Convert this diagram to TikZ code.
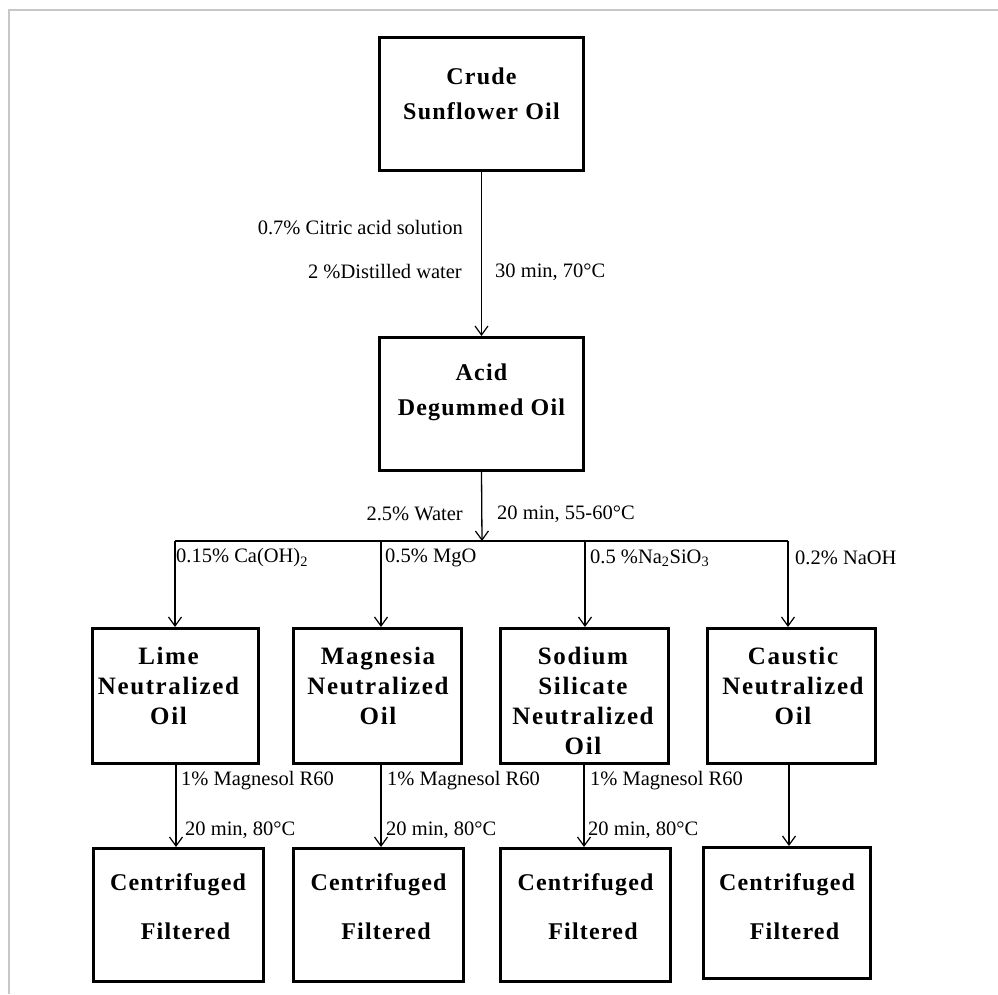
\documentclass[tikz,border=0pt]{standalone}
\usepackage{fontspec}
\setmainfont{Liberation Serif}
\usetikzlibrary{arrows.meta}
\begin{document}
\begin{tikzpicture}[x=1pt,y=1pt,
  box/.style={draw, line width=3pt, inner sep=0pt},
  btext/.style={font=\bfseries\fontsize{25}{30}\selectfont\addfontfeature{LetterSpace=6.5}, align=center, inner sep=0pt},
  lbl/.style={font=\fontsize{20.5}{24}\selectfont, inner sep=0pt},
  arr/.style={line width=1.3pt, -{Straight Barb[length=9pt,width=13pt,line width=1.2pt]}},
  ln/.style={line width=1.5pt},
  frame/.style={draw=black!22, line width=1.2pt}]
\useasboundingbox (0,0) rectangle (998,-994);
% frame
\draw[frame] (9,-994) -- (9,-10) -- (998,-10);

% boxes
\node[box, minimum width=204pt, minimum height=133pt] (crude) at (481.5,-104) {};
\node[box, minimum width=204pt, minimum height=133pt] (acid) at (481.5,-404) {};
\node[box, minimum width=166pt, minimum height=135pt] (lime) at (175.5,-696) {};
\node[box, minimum width=168pt, minimum height=135pt] (magn) at (377.5,-696) {};
\node[box, minimum width=168pt, minimum height=135pt] (sodi) at (584.5,-696) {};
\node[box, minimum width=168pt, minimum height=135pt] (caus) at (791.5,-696) {};
\node[box, minimum width=170pt, minimum height=133pt] (cf1) at (178.5,-915) {};
\node[box, minimum width=170pt, minimum height=133pt] (cf2) at (378.5,-915) {};
\node[box, minimum width=170pt, minimum height=133pt] (cf3) at (585.5,-915) {};
\node[box, minimum width=167pt, minimum height=131pt] (cf4) at (787,-913) {};

% box texts
\node[btext, font=\bfseries\fontsize{24}{35}\selectfont\addfontfeature{LetterSpace=5}] (crudet) at (481.5,-93.5) {Crude\\Sunflower Oil};
\node[btext, font=\bfseries\fontsize{24}{35}\selectfont\addfontfeature{LetterSpace=5}] (acidt) at (481.5,-392.5) {Acid\\Degummed Oil};
\node[btext] (limet) at (168.5,-685.5) {Lime\\Neutralized\\Oil};
\node[btext] (magnt) at (378,-685.5) {Magnesia\\Neutralized\\Oil};
\node[btext] (sodit) at (583,-700.5) {Sodium\\Silicate\\Neutralized\\Oil};
\node[btext] (caust) at (793,-685.5) {Caustic\\Neutralized\\Oil};
\node[btext, font=\bfseries\fontsize{24}{49}\selectfont\addfontfeature{LetterSpace=5}] (cf1t) at (178,-906.5) {Centrifuged\\\hspace*{15pt}Filtered};
\node[btext, font=\bfseries\fontsize{24}{49}\selectfont\addfontfeature{LetterSpace=5}] (cf2t) at (378.5,-906.5) {Centrifuged\\\hspace*{15pt}Filtered};
\node[btext, font=\bfseries\fontsize{24}{49}\selectfont\addfontfeature{LetterSpace=5}] (cf3t) at (585.5,-906.5) {Centrifuged\\\hspace*{15pt}Filtered};
\node[btext, font=\bfseries\fontsize{24}{49}\selectfont\addfontfeature{LetterSpace=5}] (cf4t) at (787,-906.5) {Centrifuged\\\hspace*{15pt}Filtered};

% junction coordinates
\coordinate (jm) at (482,-541);
\coordinate (j1) at (175,-541);
\coordinate (j2) at (381,-541);
\coordinate (j3) at (585,-541);
\coordinate (j4) at (788,-541);
\coordinate (k1) at (176,-541);
\coordinate (k2) at (381,-541);
\coordinate (k3) at (584,-541);
\coordinate (k4) at (789,-541);

% connectors
\draw[arr] (crude.south) -- (acid.north);
\draw[arr] (acid.south) -- (jm);
\draw[ln] (j1) -- (j4);
\draw[arr] (j1) -- (j1 |- lime.north);
\draw[arr] (j2) -- (j2 |- magn.north);
\draw[arr] (j3) -- (j3 |- sodi.north);
\draw[arr] (j4) -- (j4 |- caus.north);
\draw[arr] (k1 |- lime.south) -- (k1 |- cf1.north);
\draw[arr] (k2 |- magn.south) -- (k2 |- cf2.north);
\draw[arr] (k3 |- sodi.south) -- (k3 |- cf3.north);
\draw[arr] (k4 |- caus.south) -- (k4 |- cf4.north);

% labels
\node[lbl, anchor=east] (l1) at (463,-228) {0.7\% Citric acid solution};
\node[lbl, anchor=east] (l2) at (462,-272) {2 \%Distilled water};
\node[lbl, anchor=west] (l3) at (495,-272) {30 min, 70°C};
\node[lbl, anchor=east] (l4) at (463,-514) {2.5\% Water};
\node[lbl, anchor=west] (l5) at (497,-514) {20 min, 55-60°C};
\node[lbl, anchor=west] (l6) at (176,-558) {0.15\% Ca(OH)\textsubscript{2}};
\node[lbl, anchor=west] (l7) at (385,-558) {0.5\% MgO};
\node[lbl, anchor=west] (l8) at (590,-558) {0.5 \%Na\textsubscript{2}SiO\textsubscript{3}};
\node[lbl, anchor=west] (l9) at (795,-558) {0.2\% NaOH};
\node[lbl, anchor=west] (m1) at (181,-781) {1\% Magnesol R60};
\node[lbl, anchor=west] (m2) at (387,-781) {1\% Magnesol R60};
\node[lbl, anchor=west] (m3) at (590,-781) {1\% Magnesol R60};
\node[lbl, anchor=west] (n1) at (185,-830) {20 min, 80°C};
\node[lbl, anchor=west] (n2) at (386,-830) {20 min, 80°C};
\node[lbl, anchor=west] (n3) at (588,-830) {20 min, 80°C};
\end{tikzpicture}
\end{document}
